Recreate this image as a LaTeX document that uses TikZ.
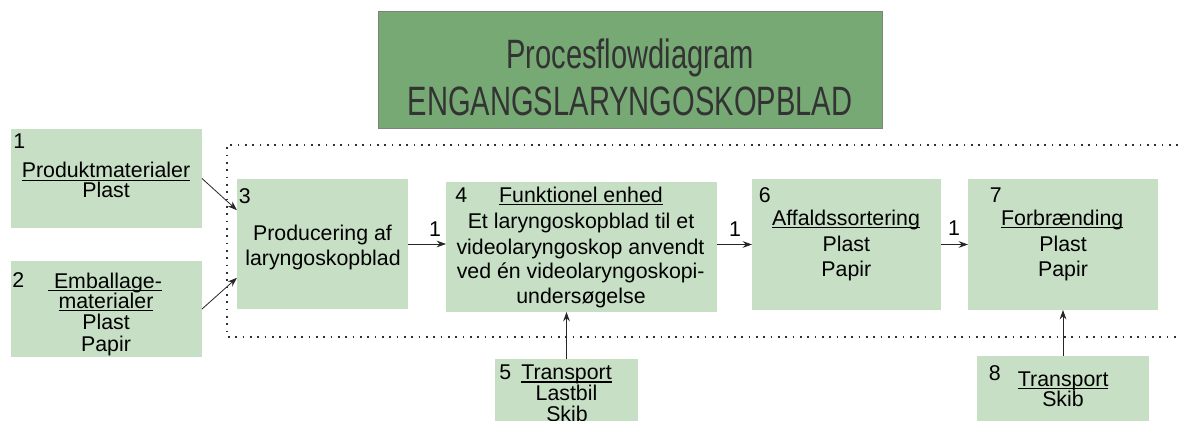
\documentclass[tikz,border=0pt]{standalone}
\usepackage{fontspec}
\setmainfont{Liberation Sans}
\newfontfamily\titlefont[FakeStretch=0.71]{Liberation Sans}
\usetikzlibrary{arrows.meta,fit,calc}
\definecolor{boxfill}{HTML}{C7DFC5}
\definecolor{titlefill}{HTML}{76A973}
\definecolor{titleedge}{HTML}{808080}
\definecolor{titletext}{HTML}{333333}
\definecolor{dotcol}{HTML}{303030}
\newcommand\ulin[1]{\setbox0\hbox{#1}\rlap{\rule[-2.4pt]{\wd0}{0.9pt}}\box0}
\begin{document}
\begin{tikzpicture}[x=0.75pt,y=-0.75pt,
  box/.style={fill=boxfill, draw=none, inner sep=0pt, outer sep=0pt},
  txt/.style={anchor=base, inner sep=0pt, font=\fontsize{16}{19}\selectfont},
  num/.style={anchor=base west, inner sep=0pt, font=\fontsize{16}{19}\selectfont},
  ttl/.style={anchor=base, inner sep=0pt, text=titletext, font=\titlefont\fontsize{30.75}{36}\selectfont},
  arr/.style={-{Stealth[length=7pt,width=5pt]}, line width=0.6pt, draw=black!85},
  frame/.style={draw=dotcol, line width=1.3pt, dash pattern=on 1.3pt off 4.2pt},
  ]
\useasboundingbox (0,0) rectangle (1178,421);

% title
\node[fill=titlefill, draw=titleedge, line width=0.6pt, inner sep=0pt, fit={(378,11) (882,128)}] (title) {};
\node[ttl] (t1) at (630,68) {Procesflowdiagram};
\node[ttl] (t2) at (630,115) {ENGANGSLARYNGOSKOPBLAD};

% dotted system boundary
\draw[frame] (1178,145) -- (227,145) -- (227,337) -- (1178,337);

% boxes
\node[box, fit={(11,129) (202,228)}] (b1) {};
\node[box, fit={(11,261) (202,357)}] (b2) {};
\node[box, fit={(237,179) (408,309)}] (b3) {};
\node[box, fit={(446,182) (717,312)}] (b4) {};
\node[box, fit={(495,359) (638,421)}] (b5) {};
\node[box, fit={(752,179) (941,310)}] (b6) {};
\node[box, fit={(968,179) (1158,310)}] (b7) {};
\node[box, fit={(977,356) (1149,421)}] (b8) {};

% box 1
\node[num] (n1) at (13,148) {1};
\node[txt] (a1) at (106,177.5) {\ulin{Produktmaterialer}};
\node[txt] (a2) at (106,197.5) {Plast};
% box 2
\node[num] (n2) at (12,287) {2};
\node[txt] (c1) at (105,288) {\ulin{\ Emballage-}};
\node[txt] (c2) at (106,308) {\ulin{materialer}};
\node[txt] (c3) at (106,329.5) {Plast};
\node[txt] (c4) at (106,351) {Papir};
% box 3
\node[num] (n3) at (238.5,203) {3};
\node[txt] (d1) at (322.5,240) {Producering af};
\node[txt] (d2) at (323,265) {laryngoskopblad};
% box 4
\node[num] (n4) at (455,202.5) {4};
\node[txt] (e1) at (581,202) {\ulin{Funktionel enhed}};
\node[txt] (e2) at (581,228.5) {Et laryngoskopblad til et};
\node[txt] (e3) at (580.5,254) {videolaryngoskop anvendt};
\node[txt] (e4) at (580.7,278.5) {ved én videolaryngoskopi-};
\node[txt] (e5) at (581,303.5) {undersøgelse};
% box 5
\node[num] (n5) at (499,379.3) {5};
\node[txt] (f1) at (566.5,379.3) {\ulin{Transport}};
\node[txt] (f2) at (566.5,400.5) {Lastbil};
\node[txt] (f3) at (567,421) {Skib};
% box 6
\node[num] (n6) at (758.5,202.7) {6};
\node[txt] (g1) at (846,225) {\ulin{Affaldssortering}};
\node[txt] (g2) at (846.3,251) {Plast};
\node[txt] (g3) at (846.3,276.7) {Papir};
% box 7
\node[num] (n7) at (989.5,202.7) {7};
\node[txt] (h1) at (1062.2,225) {\ulin{Forbrænding}};
\node[txt] (h2) at (1063,251) {Plast};
\node[txt] (h3) at (1063,276.7) {Papir};
% box 8
\node[num] (n8) at (988.5,380) {8};
\node[txt] (k1) at (1063.2,386) {\ulin{Transport}};
\node[txt] (k2) at (1063,406) {Skib};

% connectors
\draw[arr] (b1.east) -- ($(b3.north west)!0.24!(b3.south west)$);
\draw[arr] (b2.east) -- ($(b3.north west)!0.76!(b3.south west)$);
\draw[arr] (b3.east) -- (b3.east -| b4.west);
\draw[arr] (b4.east |- b6.west) -- (b6.west);
\draw[arr] (b6.east) -- (b7.west);
\draw[arr] (b5.north) -- (b5.north |- b4.south);
\draw[arr] (b8.north) -- (b8.north |- b7.south);

% flow labels
\node[txt] (l34) at (435,236) {1};
\node[txt] (l46) at (735,236) {1};
\node[txt] (l67) at (954,235) {1};
\end{tikzpicture}
\end{document}
